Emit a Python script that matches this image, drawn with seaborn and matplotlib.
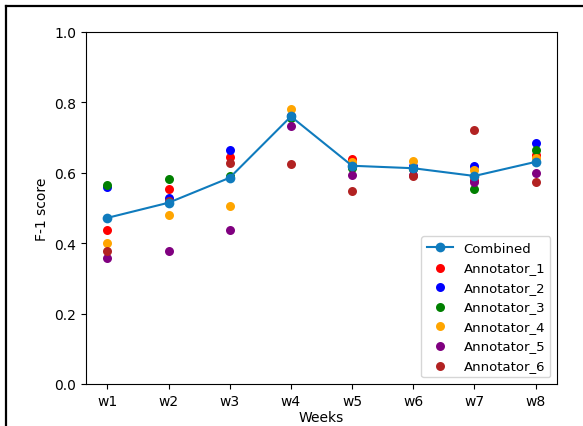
import matplotlib
matplotlib.use("Agg")
import matplotlib.pyplot as plt
from matplotlib.lines import Line2D
import seaborn as sns
import pandas as pd

weeks = ["w1", "w2", "w3", "w4", "w5", "w6", "w7", "w8"]
combined = [0.472, 0.515, 0.586, 0.760, 0.620, 0.613, 0.591, 0.631]
annotator_1 = [0.438, 0.553, 0.644, 0.760, 0.639, 0.615, 0.580, 0.651]
annotator_2 = [0.561, 0.527, 0.664, 0.760, 0.625, 0.620, 0.618, 0.686]
annotator_3 = [0.565, 0.582, 0.590, 0.755, 0.614, 0.610, 0.554, 0.666]
annotator_4 = [0.400, 0.479, 0.507, 0.781, 0.632, 0.634, 0.609, 0.642]
annotator_5 = [0.357, 0.377, 0.437, 0.734, 0.595, 0.595, 0.575, 0.600]
annotator_6 = [0.377, 0.520, 0.628, 0.625, 0.549, 0.591, 0.722, 0.574]

annotators = {
    "Annotator_1": (annotator_1, "red"),
    "Annotator_2": (annotator_2, "blue"),
    "Annotator_3": (annotator_3, "green"),
    "Annotator_4": (annotator_4, "orange"),
    "Annotator_5": (annotator_5, "purple"),
    "Annotator_6": (annotator_6, "firebrick"),
}

fig = plt.figure(figsize=(5.83, 4.27), dpi=100)
ax = fig.add_axes([86 / 583, 42 / 427, (557 - 86) / 583, (385 - 33) / 427])

df = pd.DataFrame({"Weeks": weeks, "F-1 score": combined})
sns.lineplot(data=df, x="Weeks", y="F-1 score", ax=ax, marker="o", color="#0f7bbd",
             linewidth=1.5, markersize=7, markeredgewidth=0, label="Combined", zorder=3)

for name, (vals, col) in annotators.items():
    d = pd.DataFrame({"Weeks": weeks, "F-1 score": vals})
    sns.scatterplot(data=d, x="Weeks", y="F-1 score", ax=ax, color=col, s=42,
                    linewidth=0, label=name, zorder=2)

ax.set_ylim(0, 1.0)
ax.set_xlabel("Weeks", labelpad=2)
ax.set_ylabel("F-1 score")
ax.legend(loc="lower right", fontsize=9.5)

# screenshot frame lines
fig.add_artist(Line2D([6 / 583, 6 / 583], [0, 1 - 7 / 427], color="black", linewidth=1.6,
                      transform=fig.transFigure))
fig.add_artist(Line2D([6 / 583, 1], [1 - 7 / 427, 1 - 7 / 427], color="black", linewidth=1.6,
                      transform=fig.transFigure))

fig.savefig("out.png", dpi=100)
